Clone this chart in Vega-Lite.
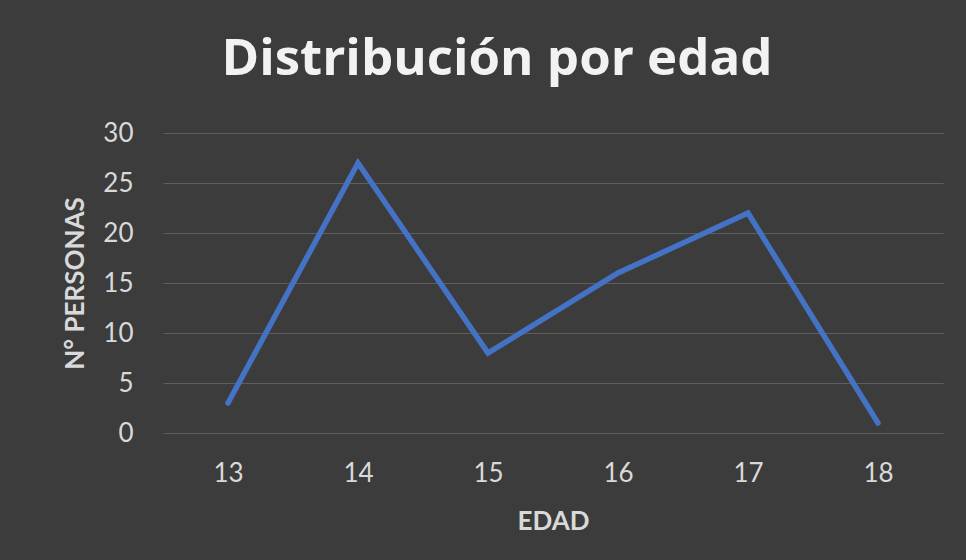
{
  "$schema": "https://vega.github.io/schema/vega-lite/v6.json",
  "width": 780,
  "height": 300,
  "autosize": {"type": "none"},
  "padding": {"left": 163, "top": 133, "right": 23, "bottom": 127},
  "background": "#3c3c3c",
  "title": {
    "text": "Distribución por edad",
    "font": "Open Sans",
    "fontSize": 51,
    "fontWeight": "bold",
    "color": "#f2f2f2",
    "anchor": "middle",
    "dx": -56,
    "offset": 34
  },
  "data": {
    "values": [
      {"edad": "13", "personas": 3},
      {"edad": "14", "personas": 27},
      {"edad": "15", "personas": 8},
      {"edad": "16", "personas": 16},
      {"edad": "17", "personas": 22},
      {"edad": "18", "personas": 1}
    ]
  },
  "mark": {"type": "line", "color": "#4472C4", "strokeWidth": 5.5, "strokeCap": "round", "strokeJoin": "miter"},
  "encoding": {
    "x": {
      "field": "edad",
      "type": "ordinal",
      "scale": {"type": "point", "padding": 0.5},
      "axis": {
        "title": "EDAD",
        "labelAngle": 0,
        "labelFont": "Lato",
        "labelFontSize": 26,
        "labelColor": "#d9d9d9",
        "labelPadding": 27,
        "titleFont": "Lato",
        "titleFontSize": 26,
        "titleFontWeight": "bold",
        "titleColor": "#d9d9d9",
        "titlePadding": 22,
        "ticks": false,
        "domain": false,
        "grid": false
      }
    },
    "y": {
      "field": "personas",
      "type": "quantitative",
      "scale": {"domain": [0, 30], "nice": false},
      "axis": {
        "title": "N° PERSONAS",
        "values": [0, 5, 10, 15, 20, 25, 30],
        "labelFont": "Lato",
        "labelFontSize": 26,
        "labelColor": "#d9d9d9",
        "labelPadding": 30,
        "titleFont": "Lato",
        "titleFontSize": 26,
        "titleFontWeight": "bold",
        "titleColor": "#d9d9d9",
        "titlePadding": 14,
        "ticks": false,
        "domain": false,
        "grid": true,
        "gridColor": "#5e5e5e",
        "gridWidth": 1
      }
    }
  },
  "config": {"view": {"stroke": null}}
}
